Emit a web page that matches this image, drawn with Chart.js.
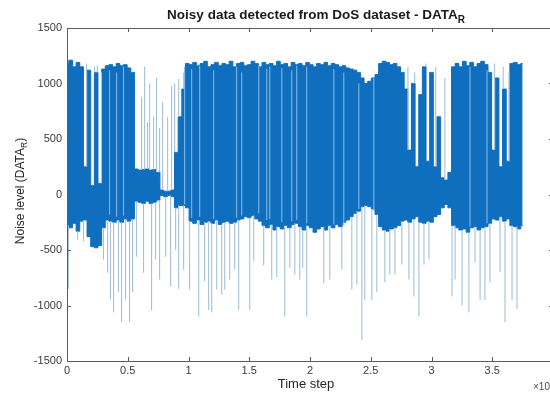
<!DOCTYPE html>
<html>
<head>
<meta charset="utf-8">
<script src="https://cdn.jsdelivr.net/npm/chart.js@4.4.1/dist/chart.umd.min.js"></script>
<style>
  html, body { margin: 0; padding: 0; background: #fff; overflow: hidden; }
  #wrap { width: 560px; height: 394px; }
</style>
</head>
<body>
<div id="wrap"><canvas id="noise" width="560" height="394"></canvas></div>
<script>
// one bin every 300 time steps: top and bottom of the dense trace in that bin
const binSize = 300;
const upperLevel = [
  1180, 1210, 1150, 1190, 1150, 250, 1120, 80, 1100, 100,
  1130, 1160, 1170, 1150, 1180, 1160, 1170, 1140, 1100, 230,
  220, 225, 230, 220, 225, 200, 40, 30, 30, 40,
  380, 700, 950, 1180, 1170, 1190, 1160, 1180, 1200, 1150,
  1170, 1190, 1160, 1180, 1170, 1200, 1150, 1180, 1190, 1160,
  1170, 1200, 1180, 1150, 1190, 1170, 1180, 1160, 1200, 1170,
  1180, 1150, 1190, 1170, 1180, 1160, 1190, 1170, 1150, 1180,
  1170, 1190, 1160, 1180, 1170, 1150, 1160, 1140, 1130, 1120,
  1100, 1050, 1000, 1020, 1050, 1080, 1180, 1200, 1190, 1170,
  1180, 1150, 1100, 950, 400, 1000, 250, 900, 1150, 300,
  1100, 250, 700, 150, 130, 200, 1150, 1180, 1150, 1200,
  1160, 1190, 1150, 1180, 1200, 1170, 1100, 400, 1050, 250,
  950, 300, 1180, 1190, 1170, 1180
];
const lowerLevel = [
  -280, -300, -260, -330, -240, -230, -380, -470, -480, -460,
  -300, -230, -240, -250, -230, -250, -220, -240, -220, -60,
  -70, -80, -60, -80, -70, -50, -10, -20, -10, -20,
  -120, -100, -100, -120, -240, -260, -230, -270, -250, -240,
  -260, -230, -270, -250, -240, -260, -250, -230, -220, -200,
  -210, -190, -220, -240, -280, -300, -270, -320, -290, -310,
  -280, -300, -270, -260, -290, -320, -280, -300, -340, -310,
  -290, -320, -280, -300, -270, -290, -250, -230, -200, -170,
  -150, -110, -100, -110, -130, -180, -290, -320, -330, -310,
  -300, -280, -240, -230, -250, -220, -200, -250, -260, -240,
  -250, -200, -180, -120, -90, -120, -280, -300, -320, -310,
  -340, -300, -290, -320, -300, -290, -260, -220, -230, -200,
  -240, -220, -280, -290, -310, -280
];

// single thin excursions (drawn lighter)
const dropTimes = [
  120, 870, 1360, 3000, 3340, 3580, 3830, 4240, 4490, 4820,
  5150, 5400, 5730, 6300, 6960, 7290, 7620, 8120, 8530, 8940,
  9190, 9600, 10090, 10840, 11330, 11660, 11910, 12320, 12730, 12980,
  13390, 13800, 14130, 15040, 15370, 16190, 16850, 17260, 17920, 18340,
  18750, 19160, 19400, 19730, 21130, 21630, 22620, 23440, 23860, 24270,
  24510, 25090, 25500, 26160, 26570, 26990, 27560, 28140, 28550, 28960,
  29380, 29790, 31690, 31940, 32520, 33080, 33580, 34000, 34400, 34810,
  35640, 36050, 36630, 37040
];
const dropLevels = [
  -850, -405, -420, -585, -705, -945, -1060, -880, -1150, -945,
  -1150, -880, -560, -705, -1040, -585, -765, -560, -830, -500,
  -850, -680, -855, -1100, -780, -1040, -1060, -855, -900, -855,
  -765, -675, -1040, -1040, -600, -640, -765, -745, -1100, -660,
  -720, -765, -660, -1100, -800, -765, -675, -855, -810, -1310,
  -950, -950, -880, -790, -720, -720, -630, -765, -920, -1100,
  -630, -585, -920, -765, -1000, -1060, -610, -950, -950, -790,
  -700, -1150, -950, -1030
];
const riseTimes = [
  1610, 1900, 2270, 2500, 2840, 6140, 6390, 6630, 6800, 7130,
  7370, 7620, 7870, 8280, 8610, 8860, 9190, 9600, 28060, 28610,
  29540, 30350, 31100, 35190, 35900, 36380
];
const riseLevels = [
  1180, 1120, 1150, 1160, 1100, 880, 1150, 650, 1000, 700,
  1050, 600, 830, 700, 980, 1000, 1040, 1100, 1150, 1100,
  1180, 1150, 1050, 1180, 1150, 1100
];

// paler streaks seen through the dense band
const streakTimes = [
  3500, 4080, 4650, 9680, 10260, 10920, 12070, 13960, 14380, 15780,
  16440, 16690, 17680, 18500, 18910, 19730, 21960, 22780, 24020, 25250,
  33170, 34570
];
const streakTops = [
  1120, 1100, 1150, 1150, 1130, 1160, 1120, 1150, 1100, 1160,
  1130, 1150, 1140, 1120, 1160, 1150, 1130, 1100, 1000, 1050,
  1150, 1120
];
const streakBottoms = [
  -180, -200, -190, -90, -210, -200, -220, -210, -190, -170,
  -230, -220, -250, -240, -230, -260, -270, -280, -130, -150,
  -290, -260
];

const xTicks = [0, 0.5, 1, 1.5, 2, 2.5, 3, 3.5, 4]; // x 10^4
const yTicks = [-1500, -1000, -500, 0, 500, 1000, 1500];

const upperPoints = upperLevel.map((v, i) => ({ x: i * binSize, y: v }));
const lowerPoints = lowerLevel.map((v, i) => ({ x: i * binSize, y: v }));

// each excursion starts at the edge of the band in its bin
const binOf = t => Math.min(upperLevel.length - 1, Math.round(t / binSize));
const spikePoints = [];
const spikeColours = [];
function addStroke(t, from, to, colour) {
  spikePoints.push({ x: t, y: from }, { x: t, y: to }, { x: t, y: null });
  spikeColours.push(colour, colour, colour);
}
dropTimes.forEach((t, i) => addStroke(t, lowerLevel[binOf(t)], dropLevels[i], '#a4c1d8'));
riseTimes.forEach((t, i) => addStroke(t, upperLevel[binOf(t)], riseLevels[i], '#a4c1d8'));
streakTimes.forEach((t, i) => addStroke(t, streakBottoms[i], streakTops[i], '#7fb6e6'));

const lineBlue = '#0f6ebe';
const fontFamily = '"Liberation Sans", Arial, sans-serif';

// text with a sub/superscript part, centred on x
function drawParts(ctx, parts, x, y) {
  let total = 0;
  parts.forEach(p => { ctx.font = p.font; total += ctx.measureText(p.text).width; });
  let cx = x - total / 2;
  parts.forEach(p => {
    ctx.font = p.font;
    ctx.fillText(p.text, cx, y + (p.dy || 0));
    cx += ctx.measureText(p.text).width;
  });
}

const matlabAxes = {
  id: 'matlabAxes',
  afterDraw(chart) {
    const { ctx, chartArea: a, scales: { x, y } } = chart;
    ctx.save();
    ctx.strokeStyle = '#5c5c5c';
    ctx.lineWidth = 1;
    ctx.strokeRect(a.left + 0.5, a.top + 0.5, a.right - a.left, a.bottom - a.top);
    ctx.beginPath();
    x.ticks.forEach(t => {
      const px = Math.round(x.getPixelForValue(t.value)) + 0.5;
      ctx.moveTo(px, a.bottom); ctx.lineTo(px, a.bottom - 4);
      ctx.moveTo(px, a.top); ctx.lineTo(px, a.top + 4);
    });
    y.ticks.forEach(t => {
      const py = Math.round(y.getPixelForValue(t.value)) + 0.5;
      ctx.moveTo(a.left, py); ctx.lineTo(a.left + 4, py);
      ctx.moveTo(a.right, py); ctx.lineTo(a.right - 4, py);
    });
    ctx.stroke();

    ctx.fillStyle = '#1a1a1a';
    ctx.textBaseline = 'alphabetic';
    ctx.textAlign = 'left';
    drawParts(ctx, [
      { text: 'Noisy data detected from DoS dataset - DATA', font: 'bold 13.5px ' + fontFamily },
      { text: 'R', font: 'bold 10px ' + fontFamily, dy: 4 }
    ], 316, 19);

    ctx.fillStyle = '#262626';
    drawParts(ctx, [{ text: 'Time step', font: '13px ' + fontFamily }], 306, 388);

    ctx.save();
    ctx.translate(24, 191);
    ctx.rotate(-Math.PI / 2);
    drawParts(ctx, [
      { text: 'Noise level (DATA', font: '12px ' + fontFamily },
      { text: 'R', font: '8.5px ' + fontFamily, dy: 3 },
      { text: ')', font: '12px ' + fontFamily }
    ], 0, 0);
    ctx.restore();

    ctx.fillStyle = '#4a4a4a';
    ctx.font = '10px ' + fontFamily;
    ctx.fillText('\u00d710', 533, 390);
    ctx.font = '7.5px ' + fontFamily;
    ctx.fillText('4', 551, 385);
    ctx.restore();
  }
};

new Chart(document.getElementById('noise'), {
  type: 'line',
  data: {
    datasets: [{
      label: 'strokes',
      data: spikePoints,
      borderColor: '#a4c1d8',
      borderWidth: 1.1,
      pointRadius: 0,
      spanGaps: false,
      segment: {
        borderColor: c => spikeColours[c.p0DataIndex] || '#a4c1d8'
      }
    }, {
      label: 'DATA_R upper',
      data: upperPoints,
      borderColor: lineBlue,
      backgroundColor: lineBlue,
      borderWidth: 1,
      stepped: 'middle',
      fill: '+1',
      pointRadius: 0
    }, {
      label: 'DATA_R lower',
      data: lowerPoints,
      borderColor: lineBlue,
      borderWidth: 1,
      stepped: 'middle',
      fill: false,
      pointRadius: 0
    }]
  },
  options: {
    responsive: false,
    animation: false,
    events: [],
    layout: { padding: { top: 28, right: 7, left: 0, bottom: 0 } },
    plugins: {
      legend: { display: false },
      title: { display: false },
      tooltip: { enabled: false },
      filler: { drawTime: 'beforeDatasetsDraw' }
    },
    scales: {
      x: {
        type: 'linear',
        min: 0,
        max: 40000,
        grid: { display: false, drawTicks: false },
        border: { display: false },
        afterBuildTicks: s => { s.ticks = xTicks.map(v => ({ value: v * 10000 })); },
        afterFit: s => { s.height = 33; },
        ticks: {
          autoSkip: false,
          maxRotation: 0,
          padding: 3,
          color: '#3a3a3a',
          font: { family: fontFamily, size: 11 },
          callback: v => String(v / 10000)
        }
      },
      y: {
        min: -1500,
        max: 1500,
        grid: { display: false, drawTicks: false },
        border: { display: false },
        afterBuildTicks: s => { s.ticks = yTicks.map(v => ({ value: v })); },
        afterFit: s => { s.width = 67; },
        ticks: {
          padding: 5,
          color: '#3a3a3a',
          font: { family: fontFamily, size: 11 },
          callback: v => String(v)
        }
      }
    }
  },
  plugins: [matlabAxes]
});
</script>
</body>
</html>
